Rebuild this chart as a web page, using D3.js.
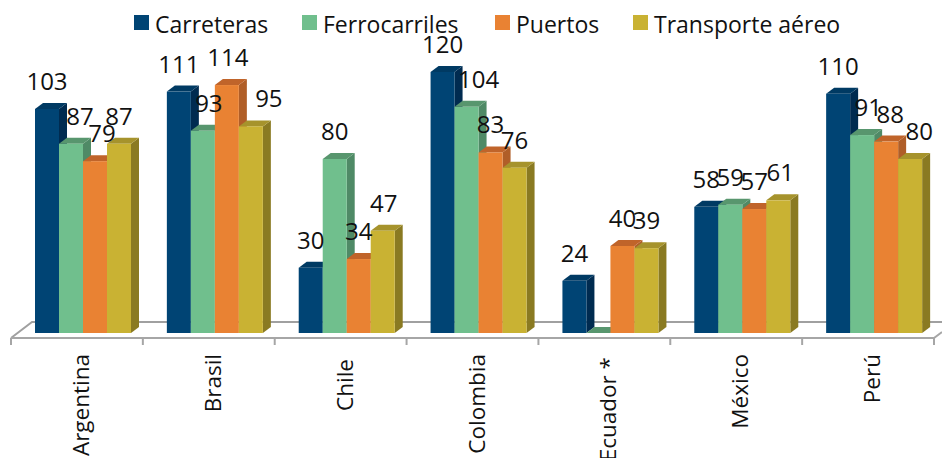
<!DOCTYPE html>
<html><head><meta charset="utf-8">
<script src="https://cdn.jsdelivr.net/npm/d3@7"></script>
<style>html,body{margin:0;padding:0;background:#fff}svg{display:block}text{font-family:"Open Sans",sans-serif;fill:#111}</style>
</head><body><svg id="c" width="942" height="458"></svg>
<script>
const categories=["Argentina","Brasil","Chile","Colombia","Ecuador *","México","Perú"];
const seriesNames=["Carreteras","Ferrocarriles","Puertos","Transporte aéreo"];
const carreteras=[103,111,30,120,24,58,110];
const ferrocarriles=[87,93,80,104,0,59,91];
const puertos=[79,114,34,83,40,57,88];
const aereo=[87,95,47,76,39,61,80];
const seriesValues=[carreteras,ferrocarriles,puertos,aereo];
const frontColors=["#004474","#70BF8D","#E98233","#C9B233"];
const topColors=["#003A63","#58966E","#C0642A","#A6932C"];
const sideColors=["#002B50","#4F8A66","#B05E28","#8A7A22"];
// label nudges from the bar centre (Excel-style manual placement), per series then category
const labelNudge=[[0,0,0,0,0,0,0],[9,6,0,12,0,0,6],[7,1,0,0,0,0,4],[0,18,1,0,0,2,9]];
const categoryLabelDrop=[0,0,5,0,3,0,0];

const svg=d3.select("#c");
const baseY=333,depthX=8,depthY=6;
const x=d3.scaleBand().domain(categories).range([11,934]);
const inner=d3.scaleBand().domain(seriesNames).range([24,120]);
const y=d3.scaleLinear().domain([0,120]).range([baseY,72]);
const valueFS=24,legendFS=23,categoryFS=22.5;

// floor
const floor=svg.append("g").attr("fill","none").attr("stroke","#a6a6a6").attr("stroke-width",2);
floor.append("path").attr("d",d3.line()([[11,338],[32,322],[942,322]])).attr("stroke","#a0a0a0");
floor.append("path").attr("d",d3.line()([[11,338],[934,338],[942,332]]));
const tickXs=categories.map(c=>x(c)).concat([934]);
floor.selectAll("line").data(tickXs).join("line").attr("x1",d=>d).attr("x2",d=>d).attr("y1",338).attr("y2",345);

// bars
categories.forEach((c,ci)=>{
  const g=svg.append("g");
  seriesNames.forEach((s,si)=>{
    const v=seriesValues[si][ci];
    const x0=x(c)+inner(s),w=inner.bandwidth(),t=y(v);
    g.append("path").attr("fill",sideColors[si])
      .attr("d",d3.line()([[x0+w,t],[x0+w+depthX,t-depthY],[x0+w+depthX,baseY-depthY],[x0+w,baseY]]));
    g.append("path").attr("fill",topColors[si])
      .attr("d",d3.line()([[x0,t],[x0+depthX,t-depthY],[x0+w+depthX,t-depthY],[x0+w,t]]));
    if(v>0) g.append("rect").attr("x",x0).attr("y",t).attr("width",w).attr("height",baseY-t).attr("fill",frontColors[si]);
  });
});

// value labels
categories.forEach((c,ci)=>{
  seriesNames.forEach((s,si)=>{
    const v=seriesValues[si][ci];
    if(v===0) return;
    svg.append("text").attr("x",x(c)+inner(s)+inner.bandwidth()/2+labelNudge[si][ci]).attr("y",y(v)-19)
      .attr("text-anchor","middle").attr("font-size",valueFS).text(v);
  });
});

// category labels
categories.forEach((c,ci)=>{
  const bx=x(c)+78;
  svg.append("text").attr("transform",`translate(${bx},${354+categoryLabelDrop[ci]}) rotate(-90)`).attr("text-anchor","end")
    .attr("font-size",categoryFS).text(c);
});

// legend
const legendX=[134,302,495,633];
seriesNames.forEach((s,i)=>{
  svg.append("rect").attr("x",legendX[i]).attr("y",15).attr("width",15).attr("height",15).attr("fill",frontColors[i]);
  svg.append("text").attr("x",legendX[i]+21).attr("y",32.5).attr("font-size",legendFS).text(s);
});
</script></body></html>
